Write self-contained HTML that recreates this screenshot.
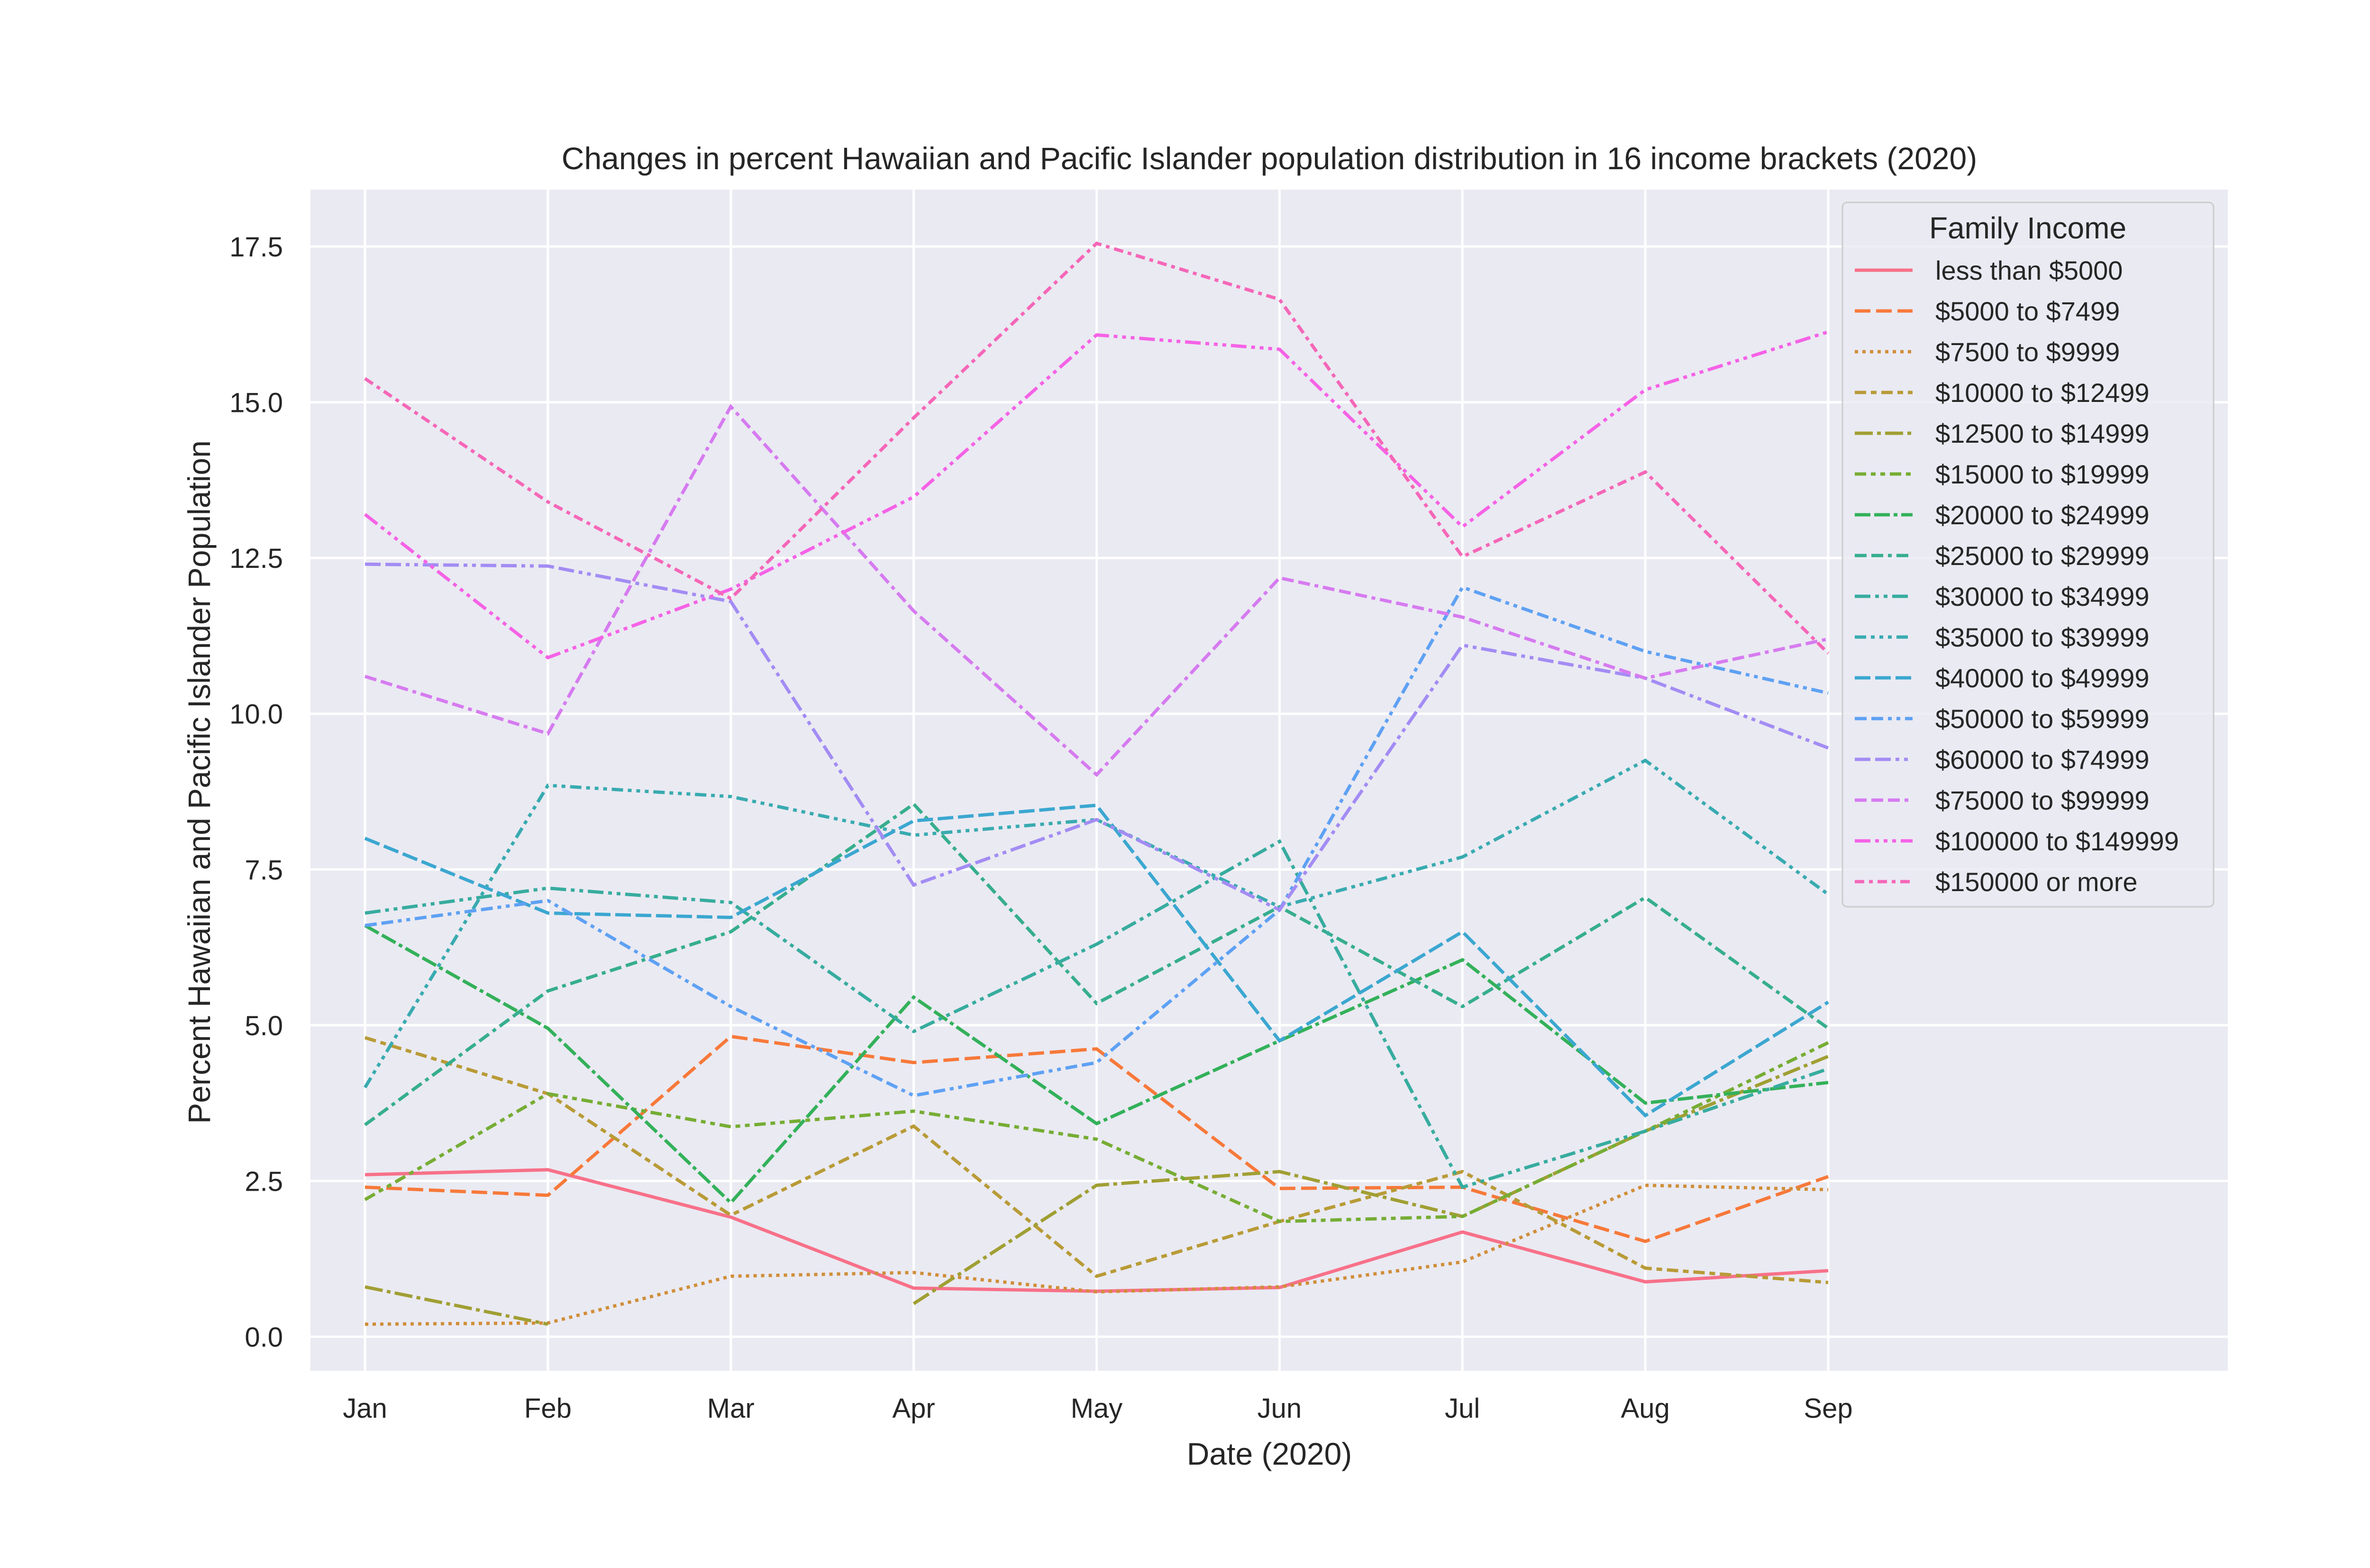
<!DOCTYPE html>
<html><head><meta charset="utf-8"><style>
body{margin:0;background:#fff;}
svg{display:block;font-family:"Liberation Sans","DejaVu Sans",sans-serif;}
</style></head><body>
<svg id="chart" width="5200" height="3308" viewBox="0 0 5200 3308" xmlns="http://www.w3.org/2000/svg">
<rect x="655" y="400" width="4045" height="2492" fill="#eaeaf2"/>
<g id="grid"></g>
<g id="lines"></g>
<g id="ticks"></g>
<text x="2678" y="357" font-size="66" text-anchor="middle" fill="#262626">Changes in percent Hawaiian and Pacific Islander population distribution in 16 income brackets (2020)</text>
<text x="2678" y="3090" font-size="66" text-anchor="middle" fill="#262626">Date (2020)</text>
<text transform="translate(443,1650) rotate(-90)" font-size="66" text-anchor="middle" fill="#262626">Percent Hawaiian and Pacific Islander Population</text>
<g id="legend"></g>
</svg>
<script>
const months = ["Jan","Feb","Mar","Apr","May","Jun","Jul","Aug","Sep"];
const yTicks = [0,2.5,5,7.5,10,12.5,15,17.5];
const seriesNames = ["less than $5000","$5000 to $7499","$7500 to $9999","$10000 to $12499","$12500 to $14999","$15000 to $19999","$20000 to $24999","$25000 to $29999","$30000 to $34999","$35000 to $39999","$40000 to $49999","$50000 to $59999","$60000 to $74999","$75000 to $99999","$100000 to $149999","$150000 or more"];
const s0 = [2.6,2.68,1.92,0.78,0.73,0.79,1.68,0.88,1.06];
const s1 = [2.4,2.27,4.82,4.4,4.62,2.38,2.4,1.53,2.57];
const s2 = [0.2,0.22,0.97,1.03,0.72,0.8,1.2,2.43,2.36];
const s3 = [4.8,3.9,1.95,3.38,0.97,1.85,2.65,1.1,0.87];
const s4 = [0.8,0.2,null,0.53,2.43,2.65,1.93,3.3,4.5];
const s5 = [2.2,3.9,3.37,3.62,3.17,1.85,1.93,3.3,4.72];
const s6 = [6.6,4.95,2.15,5.45,3.42,4.75,6.05,3.75,4.08];
const s7 = [3.4,5.55,6.5,8.55,5.35,6.9,5.3,7.05,4.95];
const s8 = [6.8,7.2,6.97,4.9,6.3,7.95,2.4,3.3,4.3];
const s9 = [4.0,8.85,8.67,8.05,8.3,6.9,7.7,9.25,7.1];
const s10 = [8.0,6.8,6.73,8.28,8.53,4.75,6.5,3.55,5.37];
const s11 = [6.6,7.0,5.3,3.87,4.4,6.85,12.03,11.0,10.33];
const s12 = [12.4,12.37,11.8,7.25,8.3,6.85,11.1,10.57,9.45];
const s13 = [10.6,9.68,14.93,11.65,9.02,12.18,11.55,10.57,11.2];
const s14 = [13.2,10.9,12.0,13.48,16.08,15.85,13.0,15.2,16.13];
const s15 = [15.38,13.4,11.85,14.75,17.55,16.65,12.52,13.88,10.97];
const allSeries = [s0,s1,s2,s3,s4,s5,s6,s7,s8,s9,s10,s11,s12,s13,s14,s15];

const colors = ['#f77189','#f7793a','#d08e39','#b89b37','#a09f33','#76ad34','#33b15a','#36ae8e','#37ac9f','#38abb0','#3ba7d0','#5ea1f4','#a38cf4','#d67bf0','#f562e6','#f567b8'];
const dashes = ['', '33 12', '7 9', '24 10 12 10', '38 9 8 9', '24 10 10 10 10 10', '33 8 33 8 8 8', '25 10 25 10 8 10', '33 10 8 10 8 10', '24 10 8 10 8 10 8 10', '33 10', '25 10 25 10 8 10 8 10', '33 10 33 10 8 10 8 10', '25 10 25 10 25 10 8 10', '33 10 8 10 8 10 8 10', '20 10 8 10'];

const NS = "http://www.w3.org/2000/svg";
const X0 = 770, X1 = 3857, YB = 2820, YT = 520;
const xs = i => X0 + (X1 - X0) * i / (months.length - 1);
const ys = v => YB - (YB - YT) * v / 17.5;

const grid = document.getElementById('grid');
const ticks = document.getElementById('ticks');
months.forEach((m, i) => {
  const l = document.createElementNS(NS, 'line');
  
  
  l.setAttribute('x1', xs(i)); l.setAttribute('x2', xs(i));
  l.setAttribute('y1', 400); l.setAttribute('y2', 2892);
  l.setAttribute('stroke', '#fff'); l.setAttribute('stroke-width', 5);
  grid.appendChild(l);
  const t = document.createElementNS(NS, 'text');
  
  
  t.setAttribute('x', xs(i)); t.setAttribute('y', 2991);
  t.setAttribute('font-size', 58); t.setAttribute('text-anchor', 'middle'); t.setAttribute('fill', '#262626');
  t.textContent = m;
  ticks.appendChild(t);
});
yTicks.forEach(v => {
  const l = document.createElementNS(NS, 'line');
  
  
  l.setAttribute('x1', 655); l.setAttribute('x2', 4700);
  l.setAttribute('y1', ys(v)); l.setAttribute('y2', ys(v));
  l.setAttribute('stroke', '#fff'); l.setAttribute('stroke-width', 5);
  grid.appendChild(l);
  const t = document.createElementNS(NS, 'text');
  
  
  t.setAttribute('x', 597); t.setAttribute('y', ys(v) + 21);
  t.setAttribute('font-size', 58); t.setAttribute('text-anchor', 'end'); t.setAttribute('fill', '#262626');
  t.textContent = v.toFixed(1);
  ticks.appendChild(t);
});

const lines = document.getElementById('lines');
allSeries.forEach((s, k) => {
  let d = '', pen = false;
  s.forEach((v, i) => {
    if (v === null) { pen = false; return; }
    d += (pen ? 'L' : 'M') + xs(i).toFixed(1) + ' ' + ys(v).toFixed(1) + ' ';
    pen = true;
  });
  const p = document.createElementNS(NS, 'path');
  
  
  p.setAttribute('d', d);
  p.setAttribute('fill', 'none');
  p.setAttribute('stroke', colors[k]);
  p.setAttribute('stroke-width', 7);
  if (dashes[k]) p.setAttribute('stroke-dasharray', dashes[k]);
  lines.appendChild(p);
});

const lg = document.getElementById('legend');
const box = document.createElementNS(NS, 'rect');


box.setAttribute('x', 3887); box.setAttribute('y', 427); box.setAttribute('width', 783); box.setAttribute('height', 1486);
box.setAttribute('rx', 10); box.setAttribute('fill', '#eaeaf2'); box.setAttribute('fill-opacity', 0.8); box.setAttribute('stroke', '#cccccc'); box.setAttribute('stroke-width', 3);
lg.appendChild(box);
const lt = document.createElementNS(NS, 'text');


lt.setAttribute('x', 4278); lt.setAttribute('y', 503); lt.setAttribute('font-size', 64); lt.setAttribute('text-anchor', 'middle'); lt.setAttribute('fill', '#262626');
lt.textContent = 'Family Income';
lg.appendChild(lt);
seriesNames.forEach((n, k) => {
  const y = 570 + k * 86;
  const l = document.createElementNS(NS, 'line');
  
  
  l.setAttribute('x1', 3913); l.setAttribute('x2', 4035); l.setAttribute('y1', y); l.setAttribute('y2', y);
  l.setAttribute('stroke', colors[k]); l.setAttribute('stroke-width', 7);
  if (dashes[k]) l.setAttribute('stroke-dasharray', dashes[k]);
  lg.appendChild(l);
  const t = document.createElementNS(NS, 'text');
  
  
  t.setAttribute('x', 4083); t.setAttribute('y', y + 20); t.setAttribute('font-size', 56); t.setAttribute('fill', '#262626');
  t.textContent = n;
  lg.appendChild(t);
});
</script>
</body></html>
